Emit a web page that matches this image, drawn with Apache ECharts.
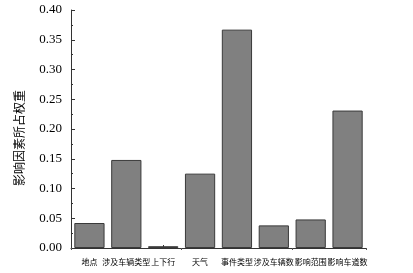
<!DOCTYPE html>
<html><head><meta charset="utf-8">
<script src="https://cdn.jsdelivr.net/npm/echarts@6/dist/echarts.min.js"></script>
<style>html,body{margin:0;padding:0;background:#fff;}#c{width:413px;height:273px;}</style>
</head><body><div id="c"></div>
<script>
const categories = ['地点','涉及车辆类型','上下行','天气','事件类型','涉及车辆数','影响范围','影响车道数'];
const weights = [0.042, 0.148, 0.003, 0.125, 0.367, 0.038, 0.048, 0.231];
const yTicks = {min: 0, max: 0.40, interval: 0.05};

const chart = echarts.init(document.getElementById('c'));
chart.setOption({
  animation: false,
  grid: {left: 71, top: 10, right: 47, bottom: 25},
  xAxis: [{
    type: 'category', data: categories,
    axisLine: {lineStyle: {color: '#333', width: 1}},
    axisTick: {show: true, inside: true, alignWithLabel: true, length: 3, lineStyle: {color: '#333'}},
    axisLabel: {color: '#000', fontSize: 8, fontFamily: 'Noto Sans CJK SC', margin: 10, interval: 0}
  }, {
    type: 'category', data: categories, position: 'bottom',
    axisLine: {show: false},
    axisTick: {show: true, length: 2, lineStyle: {color: '#555'}},
    axisLabel: {show: false}
  }],
  yAxis: {
    type: 'value', min: yTicks.min, max: yTicks.max, interval: yTicks.interval,
    name: '影响因素所占权重', nameLocation: 'middle', nameGap: 46,
    nameTextStyle: {color: '#000', fontSize: 12, fontFamily: 'Noto Sans CJK SC', padding: [0, 18, 0, 0]},
    axisLine: {show: true, lineStyle: {color: '#333', width: 1}},
    axisTick: {show: true, inside: true, length: 4, lineStyle: {color: '#333'}},
    minorTick: {show: true, splitNumber: 2, length: 2, lineStyle: {color: '#333'}},
    splitLine: {show: false},
    axisLabel: {color: '#000', fontSize: 13, fontFamily: 'Liberation Serif', margin: 9,
      formatter: v => v.toFixed(2)}
  },
  series: [{
    type: 'bar', data: weights, barCategoryGap: '18%',
    itemStyle: {color: '#808080', borderColor: '#3a3a3a', borderWidth: 1}
  }]
});
</script></body></html>
